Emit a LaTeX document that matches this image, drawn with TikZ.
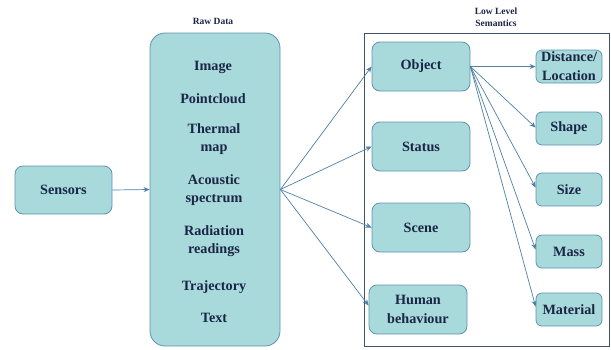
\documentclass[tikz,border=0pt]{standalone}
\usepackage{fontspec}
\setmainfont{Liberation Serif}
\usetikzlibrary{arrows.meta,calc}
\definecolor{boxfill}{HTML}{A8D9DB}
\definecolor{boxdraw}{HTML}{5F93B0}
\definecolor{txt}{HTML}{1A2645}
\definecolor{arr}{HTML}{4F7FA3}
\definecolor{frame}{HTML}{425268}
\tikzset{
  box/.style={draw=boxdraw, fill=boxfill, line width=0.8pt, rounded corners=8pt, inner sep=0pt, align=center, text=txt, font=\fontsize{14.2}{19}\selectfont\bfseries},
  lbl/.style={text=txt, font=\fontsize{14.2}{18}\selectfont\bfseries, align=center, inner sep=0pt},
  small/.style={text=txt, font=\fontsize{9.5}{12}\selectfont\bfseries, align=center, inner sep=0pt},
  conn/.style={draw=arr, line width=0.7pt, -{Stealth[length=6pt,width=5pt]}},
}
\begin{document}
\begin{tikzpicture}[x=1pt,y=-1pt]
\useasboundingbox (0,0) rectangle (611,349);
% outer frame
\node[draw=frame, line width=0.9pt, minimum width=245pt, minimum height=313pt, inner sep=0pt] (frame) at (486.5,189.5) {};
\node[small] (lls) at (496,17) {Low Level\\Semantics};
\node[small] (rdl) at (213,21) {Raw Data};
% sensors
\node[box, minimum width=97pt, minimum height=48pt] (sensors) at (63.5,190) {Sensors};
% raw data
\node[box, rounded corners=15pt, minimum width=130pt, minimum height=313pt] (raw) at (215,189.5) {};
\node[lbl] (t1) at (213,67) {Image};
\node[lbl] (t2) at (213,99) {Pointcloud};
\node[lbl] (t3) at (214,139) {Thermal\\map};
\node[lbl] (t4) at (214,190.5) {Acoustic\\spectrum};
\node[lbl] (t5) at (214,241.5) {Radiation\\readings};
\node[lbl] (t6) at (214,287) {Trajectory};
\node[lbl] (t7) at (214,317.5) {Text};
% middle
\node[box, minimum width=98pt, minimum height=49pt] (object) at (421,66.5) {Object};
\node[box, minimum width=98pt, minimum height=49pt] (status) at (421,146.5) {Status};
\node[box, minimum width=98pt, minimum height=49pt] (scene) at (421,227.5) {Scene};
\node[box, minimum width=98pt, minimum height=49pt] (human) at (418,309.5) {Human\\behaviour};
% right
\node[box, rounded corners=6pt, minimum width=66pt, minimum height=33pt] (dist) at (569,66.5) {Distance/\\Location};
\node[box, rounded corners=6pt, minimum width=66pt, minimum height=33pt] (shape) at (569,128.5) {Shape};
\node[box, rounded corners=6pt, minimum width=66pt, minimum height=33pt] (size) at (569,189.5) {Size};
\node[box, rounded corners=6pt, minimum width=66pt, minimum height=33pt] (mass) at (569,251.5) {Mass};
\node[box, rounded corners=6pt, minimum width=66pt, minimum height=33pt] (mat) at (569,309.5) {Material};
% connectors
\draw[conn] (sensors.east) -- (raw.west);
\draw[conn] (raw.east) -- (object.west);
\draw[conn] (raw.east) -- (status.west);
\draw[conn] (raw.east) -- (scene.west);
\draw[conn] (raw.east) -- ($(human.west)+(0,-4)$);
\draw[conn] (object.east) -- (dist.west);
\draw[conn] (object.east) -- ($(shape.west)+(0,-1)$);
\draw[conn] (object.east) -- ($(size.west)+(0,-2)$);
\draw[conn] (object.east) -- ($(mass.west)+(0,-2)$);
\draw[conn] (object.east) -- ($(mat.west)+(0,-3)$);
\end{tikzpicture}
\end{document}
